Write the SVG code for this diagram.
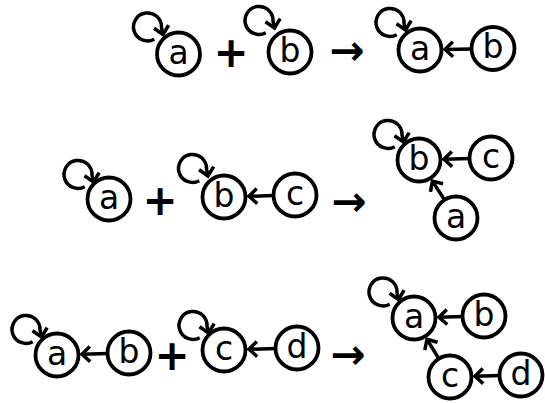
<svg xmlns="http://www.w3.org/2000/svg" width="545" height="403" viewBox="0 0 545 403">
<style>
.n circle{fill:#fff;stroke:#000;stroke-width:3.8}
.n text{font-family:"DejaVu Sans",Verdana,sans-serif;font-size:33px;text-anchor:middle;fill:#000}
.op{font-family:"DejaVu Sans",sans-serif;font-size:42px;font-weight:bold;text-anchor:middle;fill:#000}
.e{fill:none;stroke:#000;stroke-width:3.5;marker-end:url(#chev)}
</style>
<defs>
<marker id="chev" markerUnits="userSpaceOnUse" orient="auto" overflow="visible" markerWidth="1" markerHeight="1">
<path d="M-8,-7.5 L0,0 L-8,7.5" fill="none" stroke="#000" stroke-width="3.5"/>
</marker>
</defs>
<g id="connectors">
<path class="e" d="M154.25,39.2 A14,14 0 1 1 161.5,27.5 L163,34.5"/>
<path class="e" d="M265.75,32.7 A14,14 0 1 1 273,21 L274.5,28"/>
<path class="e" d="M396.75,34.7 A14,14 0 1 1 404,23 L405.5,30"/>
<path class="e" d="M84.75,186.7 A14,14 0 1 1 92,175 L93.5,182"/>
<path class="e" d="M199.25,180.7 A14,14 0 1 1 206.5,169 L208,176"/>
<path class="e" d="M394.75,146.7 A14,14 0 1 1 402,135 L403.5,142"/>
<path class="e" d="M32.75,341.7 A14,14 0 1 1 40,330 L41.5,337"/>
<path class="e" d="M199.75,337.7 A14,14 0 1 1 207,326 L208.5,333"/>
<path class="e" d="M389.75,304.2 A14,14 0 1 1 397,292.5 L398.5,299.5"/>
<path class="e" d="M472,48.9 L445,49.5"/>
<path class="e" d="M274,195.6 L249,196.3"/>
<path class="e" d="M470,158.6 L444,159.3"/>
<path class="e" d="M444.8,200.2 L432.4,181.1"/>
<path class="e" d="M108,353.6 L82,354.3"/>
<path class="e" d="M276,348.6 L249,349.3"/>
<path class="e" d="M463,316.6 L439,317.3"/>
<path class="e" d="M500,375.6 L475,376.3"/>
<path class="e" d="M439.1,359.1 L427,339.3"/>
</g>
<g id="n-a1" class="n"><circle cx="178.5" cy="54" r="21.5"/><text x="178.5" y="63.5">a</text></g>
<g id="n-b1" class="n"><circle cx="290" cy="52" r="21.5"/><text x="290" y="61.5">b</text></g>
<g id="n-a1r" class="n"><circle cx="420" cy="50" r="21.5"/><text x="420" y="59.5">a</text></g>
<g id="n-b1r" class="n"><circle cx="493" cy="48.5" r="21.5"/><text x="493" y="58">b</text></g>
<g id="n-a2" class="n"><circle cx="109" cy="199" r="21.5"/><text x="109" y="208.5">a</text></g>
<g id="n-b2" class="n"><circle cx="224" cy="197" r="21.5"/><text x="224" y="206.5">b</text></g>
<g id="n-c2" class="n"><circle cx="295" cy="195" r="21.5"/><text x="295" y="204.5">c</text></g>
<g id="n-b2r" class="n"><circle cx="419" cy="160" r="21.5"/><text x="419" y="169.5">b</text></g>
<g id="n-c2r" class="n"><circle cx="491" cy="158" r="21.5"/><text x="491" y="167.5">c</text></g>
<g id="n-a2r" class="n"><circle cx="456" cy="218" r="21.5"/><text x="456" y="227.5">a</text></g>
<g id="n-a3" class="n"><circle cx="57" cy="355" r="21.5"/><text x="57" y="364.5">a</text></g>
<g id="n-b3" class="n"><circle cx="129" cy="353" r="21.5"/><text x="129" y="362.5">b</text></g>
<g id="n-c3" class="n"><circle cx="224" cy="350" r="21.5"/><text x="224" y="359.5">c</text></g>
<g id="n-d3" class="n"><circle cx="297" cy="348" r="21.5"/><text x="297" y="357.5">d</text></g>
<g id="n-a3r" class="n"><circle cx="414" cy="318" r="21.5"/><text x="414" y="327.5">a</text></g>
<g id="n-b3r" class="n"><circle cx="484" cy="316" r="21.5"/><text x="484" y="325.5">b</text></g>
<g id="n-c3r" class="n"><circle cx="450" cy="377" r="21.5"/><text x="450" y="386.5">c</text></g>
<g id="n-d3r" class="n"><circle cx="521" cy="375" r="21.5"/><text x="521" y="384.5">d</text></g>
<g id="ops">
<text class="op" x="231" y="67">+</text>
<text class="op" x="160" y="215">+</text>
<text class="op" x="172" y="370">+</text>
<text class="op" x="347" y="65">→</text>
<text class="op" x="349" y="216">→</text>
<text class="op" x="348" y="369">→</text>
</g>
</svg>
